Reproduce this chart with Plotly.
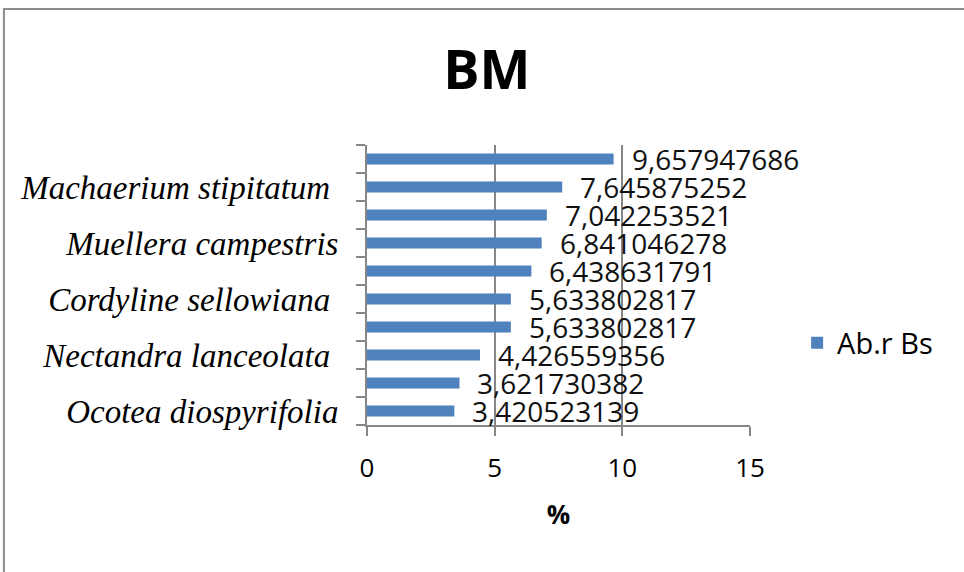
import plotly.graph_objects as go

# Data (bottom to top); hidden labels are unknown species (blank in the source chart)
categories = [
    "Ocotea diospyrifolia",
    " ",
    "Nectandra lanceolata\u00a0",
    "  ",
    "Cordyline sellowiana\u00a0",
    "   ",
    "Muellera campestris",
    "    ",
    "Machaerium stipitatum\u00a0",
    "     ",
]
values = [3.420523139, 3.621730382, 4.426559356, 5.633802817, 5.633802817,
          6.438631791, 6.841046278, 7.042253521, 7.645875252, 9.657947686]
value_labels = ["3,420523139", "3,621730382", "4,426559356", "5,633802817", "5,633802817",
                "6,438631791", "6,841046278", "7,042253521", "7,645875252", "9,657947686"]
series_name = "Ab.r Bs"
x_ticks = [0, 5, 10, 15]

BAR = "#4F81BD"
GRID = "#868686"

fig = go.Figure()
fig.add_trace(go.Bar(
    x=values, y=categories, orientation="h", name=series_name,
    marker=dict(color=BAR, line=dict(width=0)),
    showlegend=True,
))

for v, lab, c in zip(values, value_labels, categories):
    fig.add_annotation(x=v, y=c, xref="x", yref="y", text=lab, showarrow=False,
                       xanchor="left", yanchor="middle", xshift=16,
                       font=dict(family="Open Sans", size=28, color="#111111"))

# outer chart frame
fig.add_shape(type="rect", xref="paper", yref="paper",
              x0=-0.948, x1=1.58, y0=-0.6, y1=1.486,
              line=dict(color="#8c8c8c", width=2), layer="below")

fig.update_layout(
    width=964, height=572,
    margin=dict(l=367, r=214, t=145, b=147, autoexpand=False),
    paper_bgcolor="white", plot_bgcolor="white",
    bargap=0.6,
    title=dict(text="<b>BM</b>", x=0.505, xanchor="center", y=0.878, yanchor="middle",
               yref="container", font=dict(family="Open Sans", size=54, color="black")),
    legend=dict(x=1.123, xanchor="left", y=0.293, yanchor="middle",
                font=dict(family="Open Sans", size=29, color="black"),
                itemwidth=30, bgcolor="rgba(0,0,0,0)"),
    xaxis=dict(range=[0, 15], tickvals=x_ticks, showgrid=True, gridcolor=GRID, gridwidth=2,
               showline=True, linecolor=GRID, linewidth=2, ticks="outside", ticklen=9,
               tickcolor=GRID, tickwidth=2, zeroline=False, automargin=False,
               tickfont=dict(family="Open Sans", size=26, color="black"),
               ticklabelstandoff=10,
               title=dict(text="<b>%</b>", standoff=22,
                          font=dict(family="Open Sans", size=26, color="black"))),
    yaxis=dict(type="category", categoryorder="array", categoryarray=categories,
               range=[-0.5, len(categories) - 0.5], autorange=False,
               tickson="boundaries", ticks="outside", ticklen=9, tickcolor=GRID, tickwidth=2,
               showline=True, linecolor=GRID, linewidth=2, showgrid=False, dtick=1,
               automargin=False,
               tickfont=dict(family="Liberation Serif", size=33, color="black", style="italic"),
               ticklabelstandoff=20),
)

fig.write_html("out.html", config={"displayModeBar": False},
               post_script="document.body.style.margin='0';")
